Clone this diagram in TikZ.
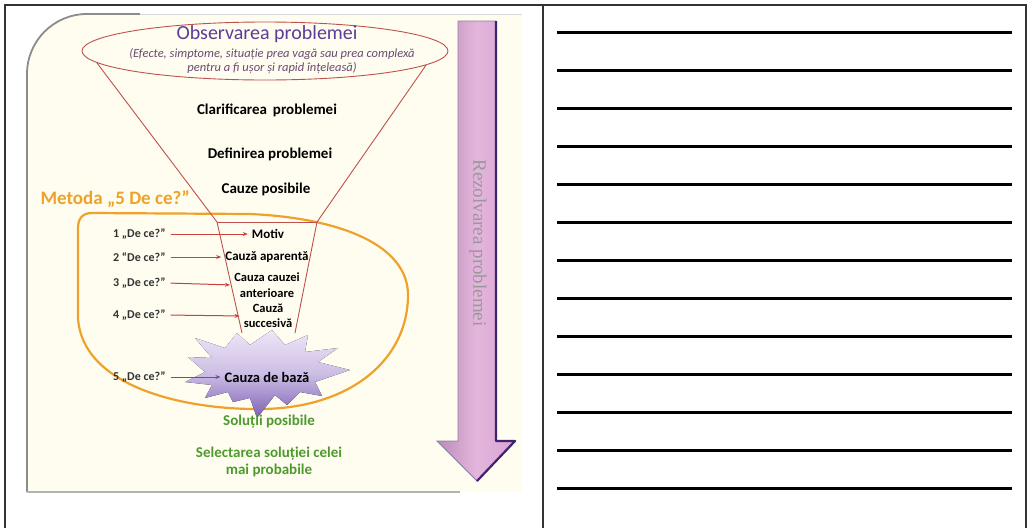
\documentclass[tikz,border=0pt]{standalone}
\usepackage{fontspec}
\setmainfont{Carlito}
\newfontfamily\serifarrow{Liberation Serif}
\usetikzlibrary{shapes.geometric,arrows.meta}

\definecolor{panelbg}{HTML}{FFFDF0}
\definecolor{funnelred}{HTML}{C0504D}
\definecolor{obspurple}{HTML}{5C3C98}
\definecolor{notecol}{HTML}{6A4A72}
\definecolor{methodorange}{HTML}{EFA22B}
\definecolor{whyred}{HTML}{C8413A}
\definecolor{whypurple}{HTML}{6A4BA8}
\definecolor{solgreen}{HTML}{4E9A2E}
\definecolor{arrowpink}{HTML}{DCA3D4}
\definecolor{arrowdark}{HTML}{3D2470}
\definecolor{burstlight}{HTML}{EFE6F8}
\definecolor{burstdark}{HTML}{7B5FB5}

\begin{document}
\begin{tikzpicture}[x=1pt,y=-1pt,
  step label/.style={font=\fontsize{15}{16}\selectfont\bfseries, align=center, inner sep=1pt},
  why label/.style={font=\fontsize{12}{13}\selectfont\bfseries, text=black!80, anchor=west, inner sep=1pt},
  cause label/.style={font=\fontsize{13}{14}\selectfont\bfseries, align=center, inner sep=1pt},
  two lines/.style={font=\fontsize{12.5}{15.5}\selectfont\bfseries},
  green label/.style={step label, text=solgreen, font=\fontsize{15}{17}\selectfont\bfseries},
  whyarrow/.style={draw=whyred, line width=1pt, -{Stealth[length=5pt,width=4pt]}, shorten <=4pt, shorten >=3pt},
  ruleline/.style={line width=3pt},
  tableline/.style={line width=1.2pt, black!80}]

\useasboundingbox (0,0) rectangle (1028,528);

% table
\draw[tableline] (5,528) -- (5,5) -- (1026,5) -- (1026,528);
\draw[tableline] (543,5) -- (543,528);

% lines to write on
\foreach \i in {0,...,12}
  \draw[ruleline] (557,32+38.08*\i) -- (1012,32+38.08*\i);

% panel
\fill[panelbg] (27,492) [rounded corners=60pt] -- (27,14) -- (140,14) [sharp corners] -- (522,14) -- (522,492) -- cycle;
\draw[black!45, line width=1.8pt, rounded corners=60pt] (27,492) -- (27,14) -- (140,14);
\draw[black!15, line width=1pt] (140,14) -- (522,14);
\draw[black!30, line width=1.5pt] (27,492) -- (460,492);

% method "5 De ce?"
\draw[methodorange, line width=2.2pt]
   (78,228) -- (78,318) .. controls (82,385) and (180,410) .. (262,409)
   .. controls (350,408) and (408,360) .. (408,295)
   .. controls (408,245) and (340,218) .. (250,214)
   -- (92,213) .. controls (83,213) and (78,218) .. (78,228) -- cycle;
\node[font=\fontsize{19}{20}\selectfont\bfseries, text=methodorange, anchor=west] (metoda) at (37,199) {Metoda „5 De ce?”};

% burst
\fill[top color=burstlight, bottom color=burstdark, middle color=burstlight!70!burstdark]
   (350,370) -- (315,382) -- (322,396) -- (300,392) -- (287,405) -- (275,395)
   -- (257,418) -- (250,398) -- (233,402) -- (228,392) -- (205,398) -- (212,385)
   -- (185,382) -- (205,372) -- (188,357) -- (212,358) -- (195,338) -- (225,348)
   -- (237,333) -- (250,345) -- (272,330) -- (285,345) -- (308,335) -- (305,352)
   -- (338,348) -- (318,362) -- cycle;

% funnel
\node[ellipse, draw=funnelred, line width=0.9pt, minimum width=366pt, minimum height=58pt, inner sep=0pt] (obs) at (265,51) {};
\draw[funnelred, line width=0.9pt] (obs.184) -- (217,222) -- (242,333);
\draw[funnelred, line width=0.9pt] (obs.-5) -- (317,222) -- (295,333);
\draw[funnelred, line width=0.6pt] (217,222) -- (317,222);

\node[font=\fontsize{20}{21}\selectfont, text=obspurple] (obstitle) at (267,34) {Observarea problemei};
\node[font=\fontsize{12.5}{13.5}\selectfont\itshape, text=notecol, align=center] (obsnote) at (272,61)
  {(Efecte, simptome, situație prea vagă sau prea complexă\\pentru a fi ușor și rapid înțeleasă)};

\node[step label] (clar) at (267,110) {Clarificarea\, problemei};
\node[step label] (defin) at (270,154) {Definirea problemei};
\node[step label] (cauze) at (266,189) {Cauze posibile};

% the five questions
\node[cause label] (m1) at (268,234) {Motiv};
\node[cause label] (m2) at (267,257) {Cauză aparentă};
\node[cause label, two lines] (m3) at (267,285) {Cauza cauzei\\anterioare};
\node[cause label, two lines] (m4) at (268,316) {Cauză\\succesivă};
\node[cause label, font=\fontsize{14.5}{15}\selectfont\bfseries] (m5) at (267,377) {Cauza de bază};

\node[why label] (q1) at (112,234) {1 „De ce?”};
\node[why label] (q2) at (112,257) {2 “De ce?”};
\node[why label] (q3) at (112,283) {3 „De ce?”};
\node[why label] (q4) at (112,315) {4 „De ce?”};
\node[why label] (q5) at (112,377) {5 „De ce?”};

\draw[whyarrow] (q1.east) -- (m1.west);
\draw[whyarrow] (q2.east) -- (m2.west);
\draw[whyarrow] (q3.east) -- (m3.west);
\draw[whyarrow] (q4.east) -- (m4.west);
\draw[whyarrow, draw=whypurple] (q5.east) -- (m5.west);

% solutions
\node[green label] (sol) at (269,422) {Soluții posibile};
\node[green label] (select) at (269,462) {Selectarea soluției celei\\mai probabile};

% big arrow
\fill[left color=arrowpink!85!black, right color=arrowpink, middle color=arrowpink!80!white]
   (458,21) -- (496,21) -- (496,441) -- (515,441) -- (477,481) -- (437,441) -- (458,441) -- cycle;
\draw[arrowdark!60, line width=0.8pt]
   (458,21) -- (496,21) -- (496,441) -- (515,441) -- (477,481) -- (437,441) -- (458,441) -- cycle;
\draw[arrowdark, line width=2.2pt, line join=round] (496,21) -- (496,441) -- (515,441) -- (477,481);
\node[rotate=-90, font=\serifarrow\fontsize{19}{20}\selectfont, text=black!40] (rezolv) at (478,243) {Rezolvarea problemei};

\end{tikzpicture}
\end{document}
